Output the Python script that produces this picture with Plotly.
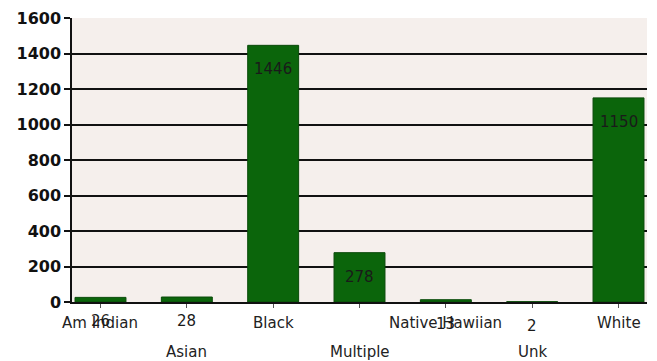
import plotly.graph_objects as go

categories = ["Am Indian", "Asian", "Black", "Multiple", "Native Hawiian", "Unk", "White"]
values = [26, 28, 1446, 278, 13, 2, 1150]
y_ticks = [0, 200, 400, 600, 800, 1000, 1200, 1400, 1600]

x_idx = list(range(len(categories)))

fig = go.Figure()
fig.add_trace(go.Bar(
    x=x_idx, y=values, width=0.59,
    marker=dict(color="#0b650b", line=dict(color="#0a4a0a", width=1)),
    hoverinfo="skip",
))

annotations = []
for i, (c, v) in enumerate(zip(categories, values)):
    # category labels, staggered in two rows
    annotations.append(dict(
        x=i, y=0, xref="x", yref="y", text=c, showarrow=False,
        yshift=-21 if i % 2 == 0 else -50, yanchor="middle",
        font=dict(family="DejaVu Sans", size=15, color="#222"),
    ))
    # value labels, inside end of bar
    annotations.append(dict(
        x=i, y=v, xref="x", yref="y", text=str(v), showarrow=False,
        yshift=-24, yanchor="middle",
        font=dict(family="DejaVu Sans", size=15, color="#1a1a1a"),
    ))

fig.update_layout(
    width=657, height=361,
    margin=dict(l=72, r=10, t=18, b=59),
    paper_bgcolor="white",
    plot_bgcolor="#f5efec",
    showlegend=False,
    annotations=annotations,
    xaxis=dict(
        range=[-0.33, 6.33], tickvals=x_idx, ticktext=[""] * len(x_idx),
        showgrid=False, zeroline=False, showline=True, linecolor="#111", linewidth=1.5,
        ticks="outside", ticklen=4, tickcolor="#555", tickwidth=1,
    ),
    yaxis=dict(
        range=[0, 1600], tickvals=y_ticks,
        showgrid=True, gridcolor="#111", gridwidth=1.5,
        zeroline=False, showline=True, linecolor="#111", linewidth=1.5,
        ticks="outside", ticklen=6, tickcolor="#111", tickwidth=1.5,
        tickfont=dict(family="DejaVu Sans", size=16, color="#111", weight="bold"),
    ),
)

fig.write_html("out.html")
